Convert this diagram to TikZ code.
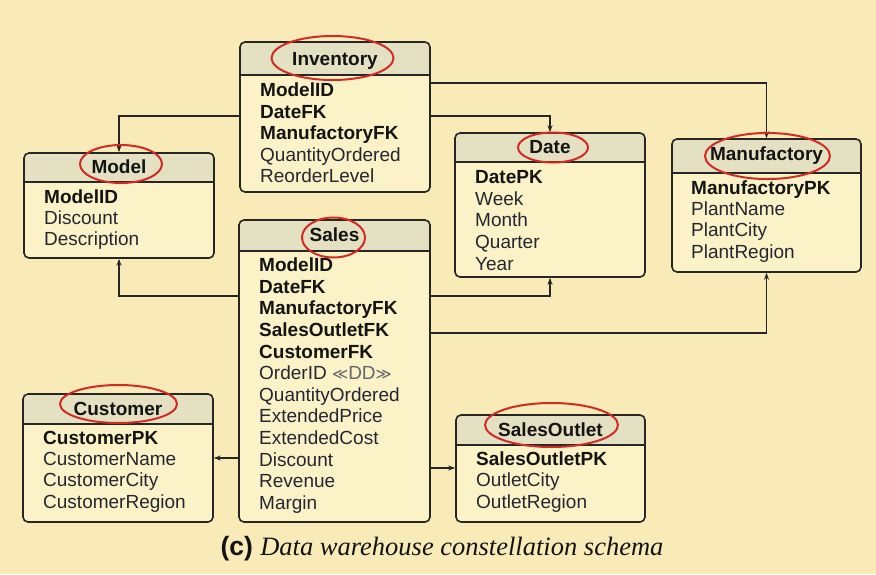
\documentclass[tikz,border=0pt]{standalone}
\usepackage{fontspec}
\setmainfont{Liberation Sans}
\newfontfamily\capserif{Liberation Serif}
\newfontfamily\symf{DejaVu Sans}
\usetikzlibrary{arrows.meta,fit}
\definecolor{bgc}{HTML}{F8EBB8}
\definecolor{bodyc}{HTML}{FBF2C7}
\definecolor{headc}{HTML}{E4E0C2}
\definecolor{framec}{HTML}{262624}
\definecolor{txtc}{HTML}{141414}
\definecolor{attc}{HTML}{262632}
\definecolor{ddc}{HTML}{66666C}
\definecolor{markc}{HTML}{D22B25}
\tikzset{
  frame/.style={draw=framec, line width=1.6pt, rounded corners=5pt, inner sep=0pt},
  ttl/.style={anchor=base, font=\fontsize{19}{21}\selectfont\bfseries, text=txtc, inner sep=0pt},
  key/.style={anchor=base west, font=\fontsize{19}{21}\selectfont\bfseries, text=txtc, inner sep=0pt},
  att/.style={anchor=base west, font=\fontsize{19}{21}\selectfont, text=attc, inner sep=0pt},
  link/.style={draw=framec, line width=1.1pt, -{Stealth[length=7pt,width=5pt]}},
  redmark/.style={draw=markc, line width=2pt},
}
\newcommand\ERbox[6]{%
  \fill[bodyc, rounded corners=5pt] (#2,#3) rectangle (#4,#5);
  \begin{scope}
    \clip[rounded corners=5pt] (#2,#3) rectangle (#4,#5);
    \fill[headc] (#2,#3) rectangle (#4,#6);
  \end{scope}
  \draw[draw=framec, line width=1.4pt] (#2,#6) -- (#4,#6);
  \node[frame, fit={(#2,#3) (#4,#5)}] (#1) {};
}
\begin{document}
\begin{tikzpicture}[x=1pt,y=-1pt]
\fill[bgc] (0,0) rectangle (876,574);
\useasboundingbox (0,0) rectangle (876,574);

% boxes
\ERbox{inv}{240}{42}{430}{192}{75}
\ERbox{model}{24}{153}{214}{258}{182}
\ERbox{date}{455}{133}{645}{277}{162}
\ERbox{manu}{672}{139}{861}{272}{173}
\ERbox{sales}{239}{220}{430}{522}{251}
\ERbox{cust}{23}{394}{213}{522}{424}
\ERbox{outlet}{456}{415}{645}{522}{445}

% titles
\node[ttl] (inv-t) at (335,65) {Inventory};
\node[ttl] (model-t) at (119,173.3) {Model};
\node[ttl] (date-t) at (550,153.3) {Date};
\node[ttl] (manu-t) at (766.5,160) {Manufactory};
\node[ttl] (sales-t) at (334.5,241.7) {Sales};
\node[ttl] (cust-t) at (118,415) {Customer};
\node[ttl] (outlet-t) at (550.5,436) {SalesOutlet};

% Inventory rows
\foreach [count=\i from 0] \t in {ModelID,DateFK,ManufactoryFK}
  \node[key] (inv-r\i) at (260,{96.7+21.5*\i}) {\t};
\foreach [count=\i from 3] \t in {QuantityOrdered,ReorderLevel}
  \node[att] (inv-r\i) at (260,{96.7+21.5*\i}) {\t};

% Model rows
\node[key] (model-r0) at (44,203.5) {ModelID};
\foreach [count=\i from 1] \t in {Discount,Description}
  \node[att] (model-r\i) at (44,{203.5+21*\i}) {\t};

% Date rows
\node[key] (date-r0) at (475,183.3) {DatePK};
\foreach [count=\i from 1] \t in {Week,Month,Quarter,Year}
  \node[att] (date-r\i) at (475,{183.3+21.7*\i}) {\t};

% Manufactory rows
\node[key] (manu-r0) at (691,194) {ManufactoryPK};
\foreach [count=\i from 1] \t in {PlantName,PlantCity,PlantRegion}
  \node[att] (manu-r\i) at (691,{194+21.4*\i}) {\t};

% Sales rows
\foreach [count=\i from 0] \t in {ModelID,DateFK,ManufactoryFK,SalesOutletFK,CustomerFK}
  \node[key] (sales-r\i) at (259,{271.7+21.6*\i}) {\t};
\node[att] (sales-r5) at (259,{271.7+21.6*5}) {OrderID \textcolor{ddc}{{\symf\fontsize{15.5}{18}\selectfont ≪}DD{\symf\fontsize{15.5}{18}\selectfont ≫}}};
\foreach [count=\i from 6] \t in {QuantityOrdered,ExtendedPrice,ExtendedCost,Discount,Revenue,Margin}
  \node[att] (sales-r\i) at (259,{271.7+21.6*\i}) {\t};

% Customer rows
\node[key] (cust-r0) at (43,444) {CustomerPK};
\foreach [count=\i from 1] \t in {CustomerName,CustomerCity,CustomerRegion}
  \node[att] (cust-r\i) at (43,{444+21.4*\i}) {\t};

% SalesOutlet rows
\node[key] (outlet-r0) at (476,465.3) {SalesOutletPK};
\foreach [count=\i from 1] \t in {OutletCity,OutletRegion}
  \node[att] (outlet-r\i) at (476,{465.3+21.5*\i}) {\t};

% connector levels
\coordinate (yI1) at (0,83);
\coordinate (yI2) at (0,116);
\coordinate (yS1) at (0,296);
\coordinate (yS2) at (0,333);
\coordinate (yS3) at (0,458);
\coordinate (yS4) at (0,468);

\draw[link] (inv.west |- yI2) -| (model.north);
\draw[link] (inv.east |- yI2) -| (date.north);
\draw[link] (inv.east |- yI1) -| (manu.north);
\draw[link] (sales.west |- yS1) -| (model.south);
\draw[link] (sales.east |- yS1) -| (date.south);
\draw[link] (sales.east |- yS2) -| (manu.south);
\draw[link] (sales.west |- yS3) -- (cust.east |- yS3);
\draw[link] (sales.east |- yS4) -- (outlet.west |- yS4);

% hand-drawn red marks
\draw[redmark] (332.5,58) ellipse [x radius=61, y radius=22];
\draw[redmark] (121,164) ellipse [x radius=41, y radius=19];
\draw[redmark] (553,147.5) ellipse [x radius=35, y radius=15];
\draw[redmark] (767.5,156) ellipse [x radius=62.5, y radius=23];
\draw[redmark] (333.5,237.5) ellipse [x radius=31.5, y radius=20];
\draw[redmark] (118.5,404) ellipse [x radius=58.5, y radius=19];
\draw[redmark] (551.5,425) ellipse [x radius=66.5, y radius=22];

% caption
\node[anchor=base, inner sep=0pt, text=txtc] (cap) at (442,555)
  {\fontsize{26.5}{30}\selectfont\bfseries (c) \capserif\mdseries\itshape Data warehouse constellation schema};
\end{tikzpicture}
\end{document}
